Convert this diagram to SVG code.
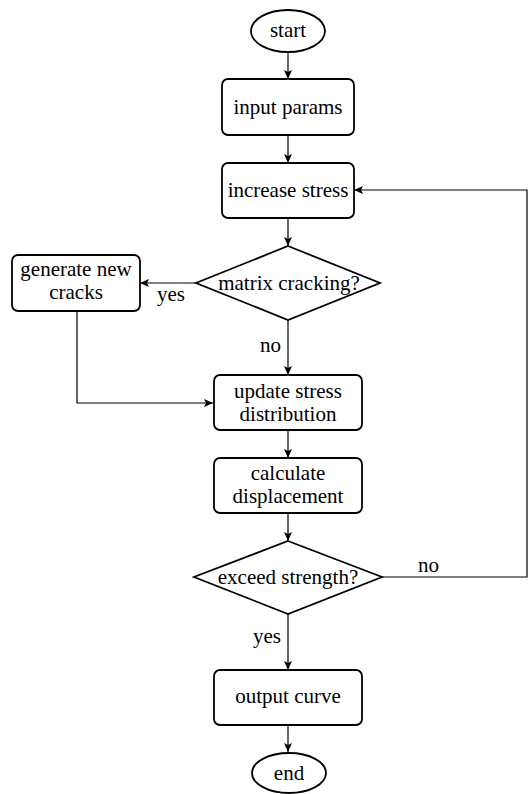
<svg xmlns="http://www.w3.org/2000/svg" width="528" height="794" viewBox="0 0 528 794">
<style>
.n{fill:#fff;stroke:#000;stroke-width:1.8}
.t{font-family:'Liberation Serif','Times New Roman',serif;font-size:21px;fill:#000;text-anchor:middle}
.l{font-family:'Liberation Serif','Times New Roman',serif;font-size:21px;fill:#000}
.c{fill:none;stroke:#000;stroke-width:1.2}
</style>
<defs>
<marker id="a" markerWidth="10" markerHeight="8" refX="9" refY="4" orient="auto" markerUnits="userSpaceOnUse">
<path d="M0,0 L9,4 L0,8 L2,4 Z" fill="#000"/>
</marker>
</defs>
<rect width="528" height="794" fill="#fff"/>
<g id="connectors">
<line class="c" x1="288" y1="52" x2="288" y2="79" marker-end="url(#a)"/>
<line class="c" x1="288" y1="135" x2="288" y2="163" marker-end="url(#a)"/>
<line class="c" x1="288" y1="218" x2="288" y2="246" marker-end="url(#a)"/>
<line class="c" x1="196" y1="283" x2="140" y2="283" marker-end="url(#a)"/>
<line class="c" x1="288" y1="320" x2="288" y2="375" marker-end="url(#a)"/>
<polyline class="c" points="77,311 77,403 213,403" marker-end="url(#a)"/>
<line class="c" x1="288" y1="430" x2="288" y2="458" marker-end="url(#a)"/>
<line class="c" x1="288" y1="513" x2="288" y2="541" marker-end="url(#a)"/>
<polyline class="c" points="382,577 527,577 527,190 354,190" marker-end="url(#a)"/>
<line class="c" x1="288" y1="614" x2="288" y2="670" marker-end="url(#a)"/>
<line class="c" x1="288" y1="725" x2="288" y2="752" marker-end="url(#a)"/>
<text class="l" x="157" y="301">yes</text>
<text class="l" x="260" y="352">no</text>
<text class="l" x="418" y="572">no</text>
<text class="l" x="253" y="643">yes</text>
</g>
<g id="start">
<ellipse class="n" cx="288" cy="31" rx="37" ry="21"/>
<text class="t" x="288" y="37">start</text>
</g>
<g id="input">
<rect class="n" x="222" y="79" width="132" height="56" rx="6"/>
<text class="t" x="288" y="114">input params</text>
</g>
<g id="increase">
<rect class="n" x="222" y="163" width="132" height="55" rx="6"/>
<text class="t" x="288" y="197">increase stress</text>
</g>
<g id="matrix">
<polygon class="n" points="288,246 380,283 288,320 196,283"/>
<text class="t" x="289" y="290">matrix cracking?</text>
</g>
<g id="generate">
<rect class="n" x="12" y="255" width="128" height="56" rx="6"/>
<text class="t" x="76" y="276">generate new</text>
<text class="t" x="76" y="299">cracks</text>
</g>
<g id="update">
<rect class="n" x="214" y="375" width="148" height="55" rx="6"/>
<text class="t" x="288" y="398">update stress</text>
<text class="t" x="288" y="421">distribution</text>
</g>
<g id="calculate">
<rect class="n" x="214" y="458" width="148" height="55" rx="6"/>
<text class="t" x="288" y="480">calculate</text>
<text class="t" x="288" y="503">displacement</text>
</g>
<g id="exceed">
<polygon class="n" points="288,541 382,577 288,614 194,577"/>
<text class="t" x="288" y="584">exceed strength?</text>
</g>
<g id="output">
<rect class="n" x="214" y="670" width="148" height="55" rx="6"/>
<text class="t" x="288" y="703">output curve</text>
</g>
<g id="end">
<ellipse class="n" cx="289" cy="773" rx="37" ry="20"/>
<text class="t" x="289" y="780">end</text>
</g>
</svg>
